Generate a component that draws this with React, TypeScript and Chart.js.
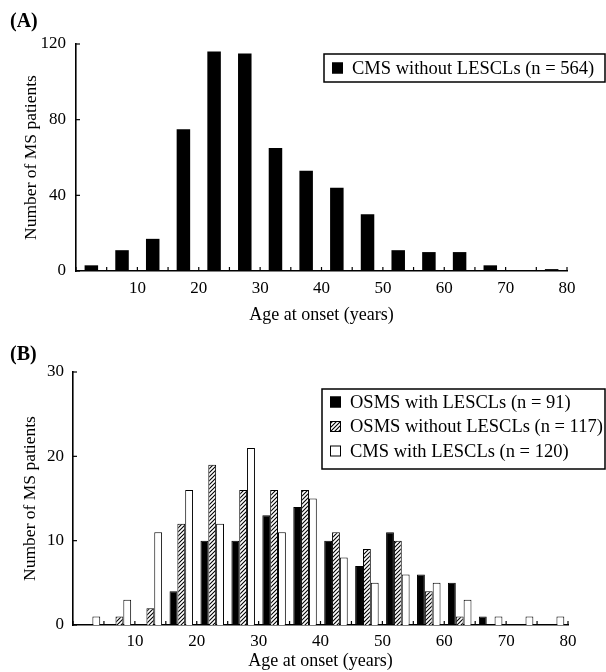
import React, { useEffect, useRef } from "react";
import { Chart, registerables } from "chart.js";

Chart.register(...registerables);

// ---- data ----
const binCenters = [2.5, 7.5, 12.5, 17.5, 22.5, 27.5, 32.5, 37.5, 42.5, 47.5, 52.5, 57.5, 62.5, 67.5, 72.5, 77.5];
const cmsWithoutLescls = [3, 11, 17, 75, 116, 115, 65, 53, 44, 30, 11, 10, 10, 3, 0, 1];
const osmsWithLescls = [0, 0, 0, 4, 10, 10, 13, 14, 10, 7, 11, 6, 5, 1, 0, 0];
const osmsWithoutLescls = [0, 1, 2, 12, 19, 16, 16, 16, 11, 9, 10, 4, 1, 0, 0, 0];
const cmsWithLescls = [1, 3, 11, 16, 12, 21, 11, 15, 8, 5, 6, 5, 3, 1, 1, 1];
const xTickLabels = [10, 20, 30, 40, 50, 60, 70, 80];
const legendA = ["CMS without LESCLs (n = 564)"];
const legendB = ["OSMS with LESCLs (n = 91)", "OSMS without LESCLs (n = 117)", "CMS with LESCLs (n = 120)"];
const xTitle = "Age at onset (years)";
const yTitle = "Number of MS patients";

const FONT = "'Liberation Serif', 'Times New Roman', Times, serif";

const decorPlugin = {
  id: "decor",
  afterDraw(chart: any, _args: any, opts: any) {
    const ctx = chart.ctx;
    const xs = chart.scales.x;
    const ys = chart.scales.y;
    ctx.save();
    ctx.strokeStyle = "#000";
    ctx.lineWidth = 1.2;
    xs.ticks.forEach((t: any) => {
      const px = xs.getPixelForValue(t.value);
      ctx.beginPath();
      ctx.moveTo(px, xs.top);
      ctx.lineTo(px, xs.top - 4);
      ctx.stroke();
    });
    ys.ticks.forEach((t: any) => {
      const py = ys.getPixelForValue(t.value);
      ctx.beginPath();
      ctx.moveTo(ys.right, py);
      ctx.lineTo(ys.right + 4, py);
      ctx.stroke();
    });
    // panel label
    ctx.fillStyle = "#000";
    ctx.font = `bold 20px ${FONT}`;
    ctx.textBaseline = "middle";
    ctx.textAlign = "left";
    ctx.fillText(opts.label, opts.labelX, opts.labelY);
    // legend
    const L = opts.legend;
    ctx.fillStyle = "#fff";
    ctx.fillRect(L.x, L.y, L.w, L.h);
    ctx.lineWidth = 1.5;
    ctx.strokeStyle = "#000";
    ctx.strokeRect(L.x, L.y, L.w, L.h);
    ctx.font = `18.5px ${FONT}`;
    chart.data.datasets.forEach((ds: any, i: number) => {
      const cy = L.y + L.firstRow + i * L.rowH;
      ctx.fillStyle = ds.backgroundColor;
      ctx.fillRect(L.x + 8, cy - 5.5, 11, 11);
      ctx.lineWidth = 1;
      ctx.strokeRect(L.x + 8.5, cy - 5, 10, 10);
      ctx.fillStyle = "#000";
      ctx.fillText(ds.label, L.x + L.textDx, cy + 1);
    });
    ctx.restore();
  },
};

function makeOptions(p: any) {
  return {
    animation: false,
    responsive: false,
    maintainAspectRatio: false,
    layout: { padding: { left: 0, top: p.top, right: p.right, bottom: 0 } },
    plugins: {
      legend: { display: false },
      tooltip: { enabled: false },
      decor: p.decor,
    },
    scales: {
      x: {
        type: "linear",
        min: 0,
        max: 80,
        offset: false,
        grid: { display: false, drawTicks: false, offset: false },
        border: { display: true, color: "#000", width: 1.6 },
        ticks: {
          stepSize: 5,
          autoSkip: false,
          maxRotation: 0,
          padding: p.xTickPad,
          color: "#000",
          font: { size: 17, family: FONT },
          callback: (v: any) => (xTickLabels.includes(Number(v)) ? String(v) : ""),
        },
        title: {
          display: true,
          text: xTitle,
          color: "#000",
          font: { size: 18, family: FONT },
          padding: { top: 0, bottom: p.xTitlePad },
        },
        afterFit: (s: any) => {
          s.height = p.xHeight;
        },
      },
      y: {
        min: 0,
        max: p.yMax,
        grid: { display: false, drawTicks: false },
        border: { display: true, color: "#000", width: 1.6 },
        ticks: {
          stepSize: p.yStep,
          padding: p.yTickPad,
          color: "#000",
          font: { size: 17, family: FONT },
        },
        title: {
          display: true,
          text: yTitle,
          color: "#000",
          font: { size: 17.5, family: FONT },
          padding: { top: p.yTitlePad, bottom: 0 },
        },
        afterFit: (s: any) => {
          s.width = p.yWidth;
        },
      },
    },
  };
}

export default function App() {
  const refA = useRef<HTMLCanvasElement | null>(null);
  const refB = useRef<HTMLCanvasElement | null>(null);

  useEffect(() => {
    const hc = document.createElement("canvas");
    hc.width = 4;
    hc.height = 4;
    const hctx = hc.getContext("2d")!;
    hctx.fillStyle = "#fff";
    hctx.fillRect(0, 0, 4, 4);
    hctx.strokeStyle = "#000";
    hctx.lineWidth = 1.1;
    hctx.beginPath();
    hctx.moveTo(-1, 5);
    hctx.lineTo(5, -1);
    hctx.moveTo(-1, 1);
    hctx.lineTo(1, -1);
    hctx.moveTo(3, 5);
    hctx.lineTo(5, 3);
    hctx.stroke();
    const hatch = hctx.createPattern(hc, "repeat");

    const pts = (vals: number[]) => binCenters.map((x, i) => ({ x, y: vals[i] }));
    const bw = (c: any) => (c.raw && c.raw.y > 0 ? 1 : 0);

    const chartA = new Chart(refA.current!, {
      type: "bar",
      data: {
        datasets: [
          {
            label: legendA[0],
            data: pts(cmsWithoutLescls),
            backgroundColor: "#000",
            borderColor: "#000",
            borderWidth: 0,
            categoryPercentage: 0.44,
            barPercentage: 1,
          },
        ],
      },
      options: makeOptions({
        top: 44,
        right: 39,
        xHeight: 59,
        xTickPad: 7,
        xTitlePad: 4,
        yMax: 120,
        yStep: 40,
        yTickPad: 10,
        yTitlePad: 21,
        yWidth: 76,
        decor: {
          label: "(A)",
          labelX: 10,
          labelY: 22,
          legend: { x: 324, y: 54, w: 281, h: 28, firstRow: 14, rowH: 0, textDx: 28 },
        },
      }) as any,
      plugins: [decorPlugin],
    } as any);

    const chartB = new Chart(refB.current!, {
      type: "bar",
      data: {
        datasets: [
          {
            label: legendB[0],
            data: pts(osmsWithLescls),
            backgroundColor: "#000",
            borderColor: "#000",
            borderWidth: bw,
            categoryPercentage: 0.76,
            barPercentage: 1,
          },
          {
            label: legendB[1],
            data: pts(osmsWithoutLescls),
            backgroundColor: hatch,
            borderColor: "#000",
            borderWidth: bw,
            categoryPercentage: 0.76,
            barPercentage: 1,
          },
          {
            label: legendB[2],
            data: pts(cmsWithLescls),
            backgroundColor: "#fff",
            borderColor: "#000",
            borderWidth: bw,
            categoryPercentage: 0.76,
            barPercentage: 1,
          },
        ],
      },
      options: makeOptions({
        top: 42,
        right: 38,
        xHeight: 47,
        xTickPad: 6,
        xTitlePad: 0,
        yMax: 30,
        yStep: 10,
        yTickPad: 9,
        yTitlePad: 20,
        yWidth: 73,
        decor: {
          label: "(B)",
          labelX: 10,
          labelY: 25,
          legend: { x: 322, y: 59, w: 283, h: 80, firstRow: 13, rowH: 24.5, textDx: 28 },
        },
      }) as any,
      plugins: [decorPlugin],
    } as any);

    return () => {
      chartA.destroy();
      chartB.destroy();
    };
  }, []);

  return (
    <div style={{ position: "fixed", left: 0, top: 0, width: 606, height: 672, background: "#fff", overflow: "hidden" }}>
      <canvas ref={refA} width={606} height={330} style={{ position: "absolute", left: 0, top: 0, display: "block" }} />
      <canvas ref={refB} width={606} height={342} style={{ position: "absolute", left: 0, top: 330, display: "block" }} />
    </div>
  );
}
